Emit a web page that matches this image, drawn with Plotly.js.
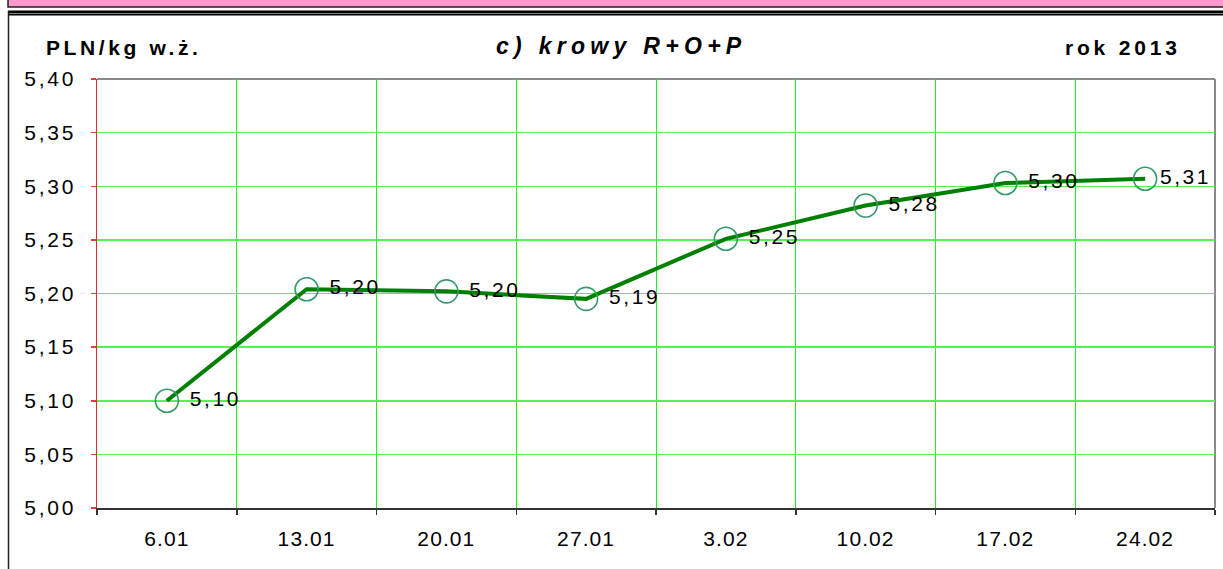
<!DOCTYPE html>
<html>
<head>
<meta charset="utf-8">
<script src="https://cdn.plot.ly/plotly-3.0.1.min.js"></script>
<style>
html,body{margin:0;padding:0;background:#fff;}
#chart{width:1223px;height:569px;}
#chart g.annotation[data-index="0"] text{letter-spacing:3.6px;}
#chart g.annotation[data-index="1"] text{letter-spacing:5.3px;}
#chart g.annotation[data-index="2"] text{letter-spacing:3.8px;}
#chart g.ytick text{letter-spacing:2.8px;}
#chart g.xtick text{letter-spacing:1.1px;}
#chart g.textpoint text{letter-spacing:2.6px;}
</style>
</head>
<body>
<div id="chart"></div>
<script>
// ---- data ----
const categories = ["6.01", "13.01", "20.01", "27.01", "3.02", "10.02", "17.02", "24.02"];
const prices = [5.10, 5.204, 5.202, 5.195, 5.251, 5.282, 5.303, 5.307];
const priceLabels = ["5,10", "5,20", "5,20", "5,19", "5,25", "5,28", "5,30", "5,31"];
const yTickValues = [5.00, 5.05, 5.10, 5.15, 5.20, 5.25, 5.30, 5.35, 5.40];
const unitLabel = "PLN/kg w.ż.";
const chartTitle = "c) krowy R+O+P";
const yearLabel = "rok 2013";

// ---- layout helpers (pixel -> paper) ----
const W = 1223, H = 569;
const M = {l: 97, r: 8, t: 79, b: 61};
const PW = W - M.l - M.r, PH = H - M.t - M.b;
const px = x => (x - M.l) / PW;
const py = y => (H - M.b - y) / PH;

const FONT = "Liberation Sans, Arial, sans-serif";

const lineTrace = {
  type: "scatter",
  mode: "lines+markers",
  x: categories,
  y: prices,
  line: {color: "#008000", width: 4},
  marker: {symbol: "circle-open", size: 23, color: "#339966", line: {width: 1.6, color: "#339966"}},
  cliponaxis: false,
  hoverinfo: "x+y"
};

// labels: transparent wide markers so the text sits a little further from each point
// (the last label sits closer to its point, as in the original, to stay inside the frame)
const labelTrace = {
  type: "scatter",
  mode: "markers+text",
  x: categories,
  y: prices,
  text: priceLabels,
  textposition: "middle right",
  textfont: {family: FONT, size: 21, color: "#000"},
  marker: {size: categories.map((c, i) => i === categories.length - 1 ? 22 : 35),
           color: "rgba(0,0,0,0)", line: {width: 0}},
  cliponaxis: false,
  hoverinfo: "skip"
};

const layout = {
  width: W, height: H,
  margin: M,
  paper_bgcolor: "#fff",
  plot_bgcolor: "#fff",
  showlegend: false,
  separators: ", ",
  font: {family: FONT, color: "#000"},
  xaxis: {
    type: "category",
    tickson: "boundaries",
    ticks: "outside", ticklen: 5, tickcolor: "#333", tickwidth: 1.5,
    ticklabelstandoff: 11,
    showgrid: true, gridcolor: "#22ee22", gridwidth: 1,
    showline: true, linecolor: "#333", linewidth: 2,
    tickfont: {family: FONT, size: 21, color: "#000"},
    range: [-0.5, 7.5],
    zeroline: false,
    fixedrange: true
  },
  yaxis: {
    range: [5.0, 5.4],
    tickvals: yTickValues,
    tickformat: ".2f",
    ticks: "outside", ticklen: 5, tickcolor: "#e04040", tickwidth: 1.5,
    ticklabelstandoff: 10,
    showgrid: true, gridcolor: "#55f055", gridwidth: 1.5,
    showline: true, linecolor: "#d83030", linewidth: 1.5,
    tickfont: {family: FONT, size: 21, color: "#000"},
    zeroline: false,
    fixedrange: true
  },
  annotations: [
    {text: "<b>" + unitLabel + "</b>", xref: "paper", yref: "paper", x: px(44), y: py(48),
     xanchor: "left", yanchor: "middle", align: "left", showarrow: false,
     font: {family: FONT, size: 21, color: "#000"}},
    {text: "<b><i>" + chartTitle + "</i></b>", xref: "paper", yref: "paper", x: px(621), y: py(46),
     xanchor: "center", yanchor: "middle", align: "center", showarrow: false,
     font: {family: FONT, size: 23, color: "#000"}},
    {text: "<b>" + yearLabel + "</b>", xref: "paper", yref: "paper", x: px(1063), y: py(48),
     xanchor: "left", yanchor: "middle", align: "left", showarrow: false,
     font: {family: FONT, size: 21, color: "#000"}}
  ],
  shapes: [
    // pink header bar
    {type: "rect", xref: "paper", yref: "paper", x0: px(8), x1: px(1230), y0: py(7), y1: py(-5),
     fillcolor: "#ff99cc", line: {color: "#222", width: 1.5}, layer: "above"},
    // black double rule
    {type: "line", xref: "paper", yref: "paper", x0: px(8), x1: px(1230), y0: py(12), y1: py(12),
     line: {color: "#000", width: 3}},
    {type: "line", xref: "paper", yref: "paper", x0: px(8), x1: px(1230), y0: py(14.8), y1: py(14.8),
     line: {color: "#000", width: 1.5}},
    // frame left border
    {type: "line", xref: "paper", yref: "paper", x0: px(8.5), x1: px(8.5), y0: py(11), y1: py(575),
     line: {color: "#222", width: 1.5}},
    // plot area top and right border
    {type: "line", xref: "paper", yref: "paper", x0: 0, x1: 1, y0: 1, y1: 1,
     line: {color: "#8a8a8a", width: 2}, layer: "below"},
    {type: "line", xref: "paper", yref: "paper", x0: 1, x1: 1, y0: 0, y1: 1,
     line: {color: "#8a8a8a", width: 2}, layer: "below"}
  ]
};

Plotly.newPlot("chart", [lineTrace, labelTrace], layout, {displayModeBar: false, staticPlot: true});
</script>
</body>
</html>
